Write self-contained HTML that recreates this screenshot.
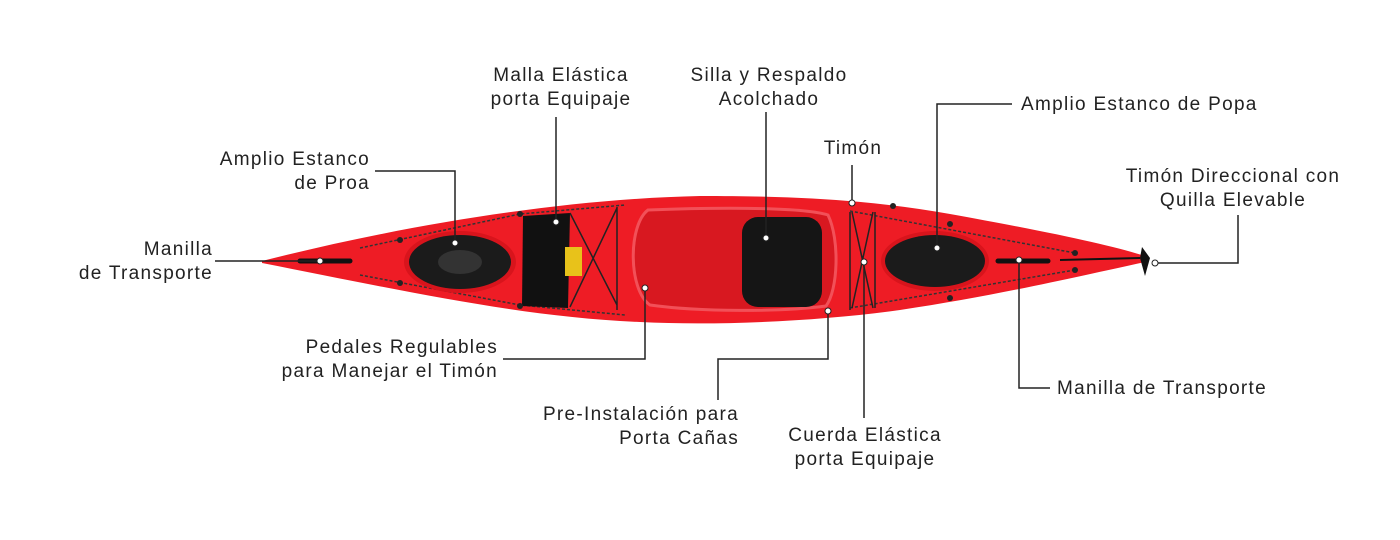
<!DOCTYPE html>
<html><head><meta charset="utf-8"><style>
html,body{margin:0;padding:0;background:#fff;}
svg{display:block;}
text{font-family:"Liberation Sans",sans-serif;font-size:19px;letter-spacing:1.3px;fill:#222;}
</style></head><body>
<svg width="1400" height="540" viewBox="0 0 1400 540" xmlns="http://www.w3.org/2000/svg">
<!-- hull -->
<path d="M262,261 C400,226 560,199 700,196 C800,196 870,200 950,214 C1050,232 1110,245 1145,256 L1145,262 C1080,276 1000,295 900,310 C820,321 720,326 640,322 C520,317 400,290 262,263 Z" fill="#ee1c25"/>
<!-- bungee outlines -->
<path d="M360,248 L520,214 L625,205 M360,275 L520,305 L625,315" stroke="#333" stroke-width="1.5" stroke-dasharray="3,2" fill="none"/>
<path d="M850,211 L1075,253 M850,308 L1075,270" stroke="#333" stroke-width="1.5" stroke-dasharray="3,2" fill="none"/>
<!-- front hatch -->
<ellipse cx="460" cy="262" rx="56" ry="31" fill="#d8141c"/>
<ellipse cx="460" cy="262" rx="51" ry="27" fill="#1b1b1b"/>
<ellipse cx="460" cy="262" rx="22" ry="12" fill="#333"/>
<!-- net -->
<path d="M523,216 L570,213 L568,308 L522,306 Z" fill="#111"/>
<rect x="565" y="247" width="17" height="29" fill="#e8c21a"/>
<path d="M570,213 L617,305 M617,208 L570,307 M617,207 L617,310" stroke="#222" stroke-width="1.5"/>
<!-- cockpit -->
<path d="M648,210 C700,208 800,206 828,215 C840,240 838,290 826,306 C780,312 700,312 650,305 C628,290 628,225 648,210 Z" fill="#d81820" stroke="#f25058" stroke-width="3"/>
<rect x="742" y="217" width="80" height="90" rx="16" fill="#151515"/>
<!-- rear bungee X -->
<path d="M850,212 L850,310 M875,212 L875,308 M852,212 L873,308 M873,212 L852,308" stroke="#222" stroke-width="1.5"/>
<!-- rear hatch -->
<ellipse cx="935" cy="261" rx="54" ry="30" fill="#d8141c"/>
<ellipse cx="935" cy="261" rx="50" ry="26" fill="#1b1b1b"/>
<!-- handles -->
<path d="M300,261 L350,261" stroke="#111" stroke-width="5" stroke-linecap="round"/>
<path d="M998,261 L1048,261" stroke="#111" stroke-width="5" stroke-linecap="round"/>
<path d="M1060,260 L1140,258" stroke="#111" stroke-width="2"/>
<!-- rudder -->
<path d="M1142,247 L1150,258 L1145,276 L1140,258 Z" fill="#111"/>
<g fill="#222"><circle cx="400" cy="240" r="3"/><circle cx="400" cy="283" r="3"/><circle cx="520" cy="214" r="3"/><circle cx="520" cy="306" r="3"/><circle cx="950" cy="224" r="3"/><circle cx="950" cy="298" r="3"/><circle cx="1075" cy="253" r="3"/><circle cx="1075" cy="270" r="3"/><circle cx="893" cy="206" r="3"/></g>
<!-- leader lines -->
<g stroke="#222" stroke-width="1.5" fill="none">
<path d="M215,261 L320,261"/>
<path d="M375,171 L455,171 L455,243"/>
<path d="M556,117 L556,222"/>
<path d="M766,112 L766,238"/>
<path d="M852,165 L852,203"/>
<path d="M1012,104 L937,104 L937,248"/>
<path d="M1238,215 L1238,263 L1155,263"/>
<path d="M503,359 L645,359 L645,288"/>
<path d="M718,400 L718,359 L828,359 L828,311"/>
<path d="M864,262 L864,418"/>
<path d="M1050,388 L1019,388 L1019,260"/>
</g>
<g fill="#fff" stroke="#222" stroke-width="1">
<circle cx="320" cy="261" r="3"/><circle cx="455" cy="243" r="3"/><circle cx="556" cy="222" r="3"/><circle cx="766" cy="238" r="3"/><circle cx="852" cy="203" r="3"/><circle cx="937" cy="248" r="3"/><circle cx="1155" cy="263" r="3"/><circle cx="645" cy="288" r="3"/><circle cx="828" cy="311" r="3"/><circle cx="864" cy="262" r="3"/><circle cx="1019" cy="260" r="3"/>
</g>
<!-- labels -->
<g text-anchor="end">
<text x="213" y="255">Manilla</text><text x="213" y="279">de Transporte</text>
<text x="370" y="165">Amplio Estanco</text><text x="370" y="189">de Proa</text>
<text x="498" y="353">Pedales Regulables</text><text x="498" y="377">para Manejar el Timón</text>
<text x="739" y="420">Pre-Instalación para</text><text x="739" y="444">Porta Cañas</text>
</g>
<g text-anchor="middle">
<text x="561" y="81">Malla Elástica</text><text x="561" y="105">porta Equipaje</text>
<text x="769" y="81">Silla y Respaldo</text><text x="769" y="105">Acolchado</text>
<text x="853" y="154">Timón</text>
<text x="1233" y="182">Timón Direccional con</text><text x="1233" y="206">Quilla Elevable</text>
<text x="865" y="441">Cuerda Elástica</text><text x="865" y="465">porta Equipaje</text>
</g>
<text x="1021" y="110">Amplio Estanco de Popa</text>
<text x="1057" y="394">Manilla de Transporte</text>
</svg>
</body></html>
